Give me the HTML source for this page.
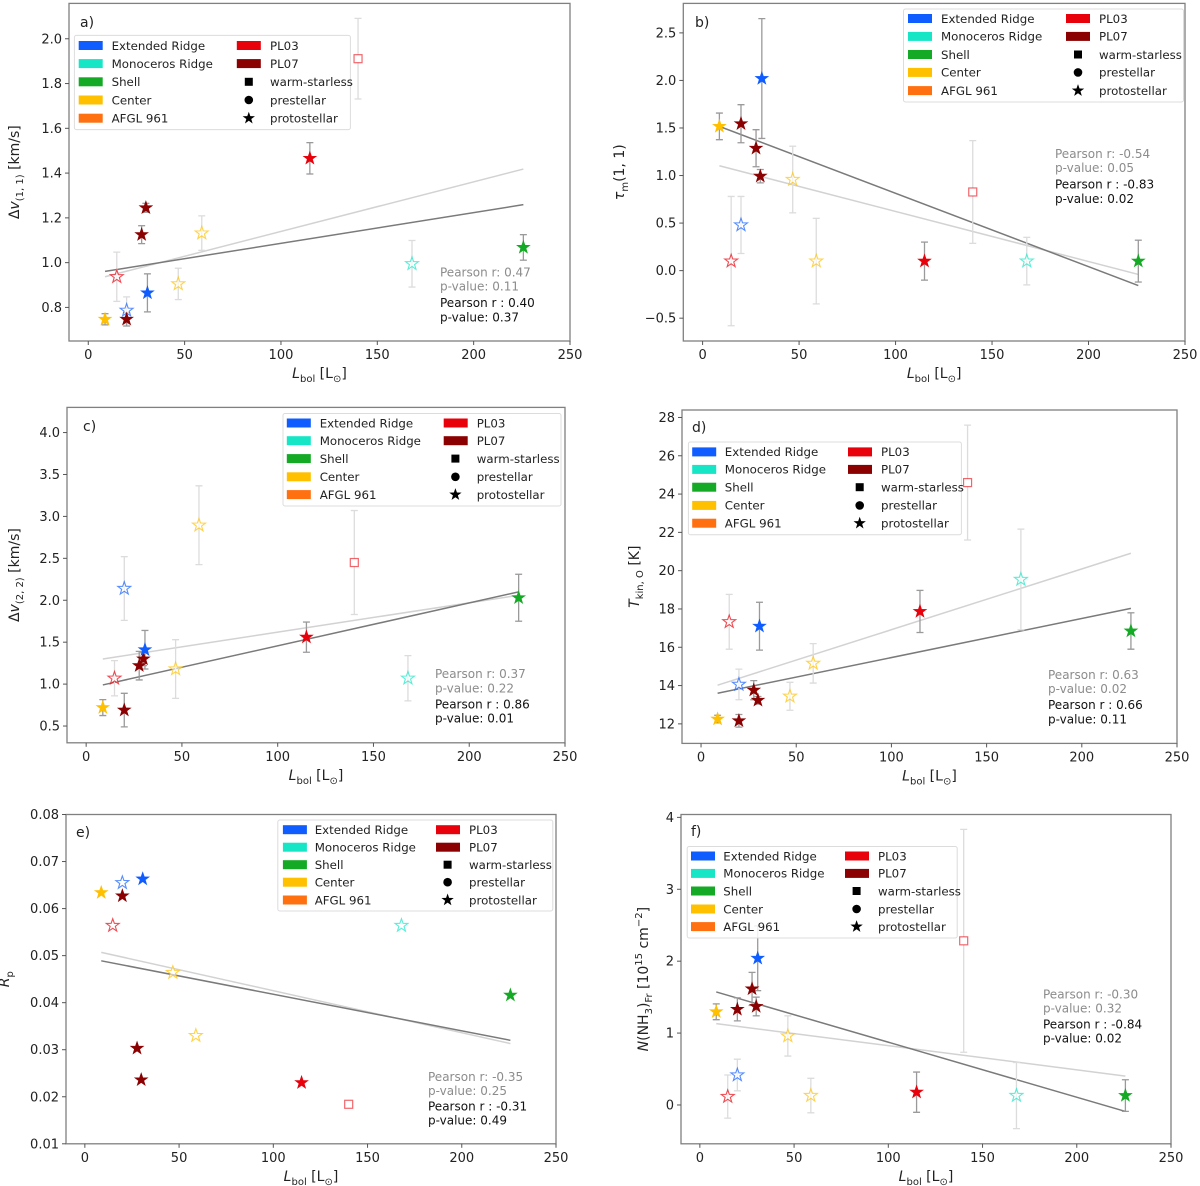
<!DOCTYPE html>
<html><head><meta charset="utf-8"><title>Lbol correlations</title>
<style>
html,body{margin:0;padding:0;background:#fff;}
svg{display:block;font-family:"DejaVu Sans","Liberation Sans",sans-serif;}
</style></head>
<body>
<svg id="fig" width="1200" height="1186" viewBox="0 0 1200 1186" xmlns="http://www.w3.org/2000/svg"></svg>
<script>
// ---- shared data ----
const lbol = [8.7, 14.8, 19.9, 19.9, 27.7, 29.9, 30.7, 46.7, 58.9, 115, 140, 168, 225.8];
const region = ['Center','PL03','Extended Ridge','PL07','PL07','PL07','Extended Ridge','Center','Center','PL03','PL03','Monoceros Ridge','Shell'];
const isFilled = [1,0,0,1,1,1,1,0,0,1,0,0,1];
const markerType = ['star','star','star','star','star','star','star','star','star','star','square','star','star'];
const xTicks = [0, 50, 100, 150, 200, 250];
const fitX = [8.7, 225.8];

// ---- panel a ----
const aVal = [0.747,0.937,0.787,0.747,1.125,1.245,0.865,0.905,1.132,1.466,1.911,0.995,1.068];
const aErr = [0.025,0.11,0.06,0.03,0.04,0.02,0.085,0.07,0.077,0.07,0.18,0.104,0.057];
const aTicks = [0.8,1.0,1.2,1.4,1.6,1.8,2.0];
const aFitAll = [0.937,1.418];
const aFitProto = [0.961,1.259];
const aStats = ['Pearson r: 0.47','p-value: 0.11','Pearson r : 0.40','p-value: 0.37'];
// ---- panel b ----
const bVal = [1.517,0.10,0.48,1.545,1.287,0.993,2.02,0.958,0.10,0.10,0.827,0.10,0.10];
const bErr = [0.14,0.68,0.3,0.2,0.195,0.07,0.63,0.35,0.45,0.2,0.54,0.25,0.22];
const bTicks = [-0.5,0.0,0.5,1.0,1.5,2.0,2.5];
const bFitAll = [1.103,-0.04];
const bFitProto = [1.517,-0.157];
const bStats = ['Pearson r: -0.54','p-value: 0.05','Pearson r : -0.83','p-value: 0.02'];
// ---- panel c ----
const cVal = [0.72,1.07,2.14,0.69,1.22,1.30,1.41,1.18,2.895,1.56,2.45,1.07,2.03];
const cErr = [0.095,0.21,0.38,0.2,0.17,0.08,0.23,0.35,0.47,0.18,0.62,0.27,0.28];
const cTicks = [0.5,1.0,1.5,2.0,2.5,3.0,3.5,4.0];
const cFitAll = [1.30,2.06];
const cFitProto = [0.99,2.10];
const cStats = ['Pearson r: 0.37','p-value: 0.22','Pearson r : 0.86','p-value: 0.01'];
// ---- panel d ----
const dVal = [12.25,17.33,14.06,12.16,13.76,13.23,17.1,13.44,15.16,17.87,24.6,19.54,16.85];
const dErr = [0.2,1.43,0.8,0.33,0.5,0.2,1.25,0.73,1.03,1.1,3.0,2.63,0.95];
const dTicks = [12,14,16,18,20,22,24,26,28];
const dFitAll = [14.02,20.91];
const dFitProto = [13.6,18.03];
const dStats = ['Pearson r: 0.63','p-value: 0.02','Pearson r : 0.66','p-value: 0.11'];
// ---- panel e ----
const eVal = [0.0634,0.0564,0.0655,0.0627,0.0303,0.0236,0.0663,0.0464,0.0330,0.0230,0.0184,0.0564,0.0416];
const eErr = [0,0,0,0,0,0,0,0,0,0,0,0,0];
const eTicks = [0.01,0.02,0.03,0.04,0.05,0.06,0.07,0.08];
const eFitAll = [0.0507,0.0313];
const eFitProto = [0.0489,0.0320];
const eStats = ['Pearson r: -0.35','p-value: 0.25','Pearson r : -0.31','p-value: 0.49'];
// ---- panel f ----
const fVal = [1.296,0.117,0.417,1.33,1.614,1.37,2.04,0.96,0.131,0.178,2.283,0.131,0.131];
const fErr = [0.11,0.3,0.22,0.16,0.23,0.13,0.45,0.28,0.24,0.28,1.55,0.46,0.22];
const fTicks = [0,1,2,3,4];
const fFitAll = [1.132,0.402];
const fFitProto = [1.572,-0.09];
const fStats = ['Pearson r: -0.30','p-value: 0.32','Pearson r : -0.84','p-value: 0.02'];

const regionColor = {'Extended Ridge':'#0f5cff','Monoceros Ridge':'#16e6c6','Shell':'#14aa25','Center':'#ffc000','AFGL 961':'#ff7010','PL03':'#e8000b','PL07':'#8b0000'};
const legendRegions = ['Extended Ridge','Monoceros Ridge','Shell','Center','AFGL 961'];
const legendRegions2 = ['PL03','PL07'];
const legendTypes = ['warm-starless','prestellar','protostellar'];

const NS = 'http://www.w3.org/2000/svg';
const fig = document.getElementById('fig');
function mk(tag, attrs, parent){
  const e = document.createElementNS(NS, tag);
  for (const k in attrs) e.setAttribute(k, attrs[k]);
  (parent||fig).appendChild(e);
  return e;
}
function starPath(cx, cy, R){
  const r = R*0.40; let d='';
  for(let i=0;i<10;i++){
    const rad = i%2===0?R:r; const a = -Math.PI/2 + i*Math.PI/5;
    d += (i===0?'M':'L') + (cx+rad*Math.cos(a)).toFixed(2)+','+(cy+rad*Math.sin(a)).toFixed(2);
  }
  return d+'Z';
}

const panels = [
 {id:'a', label:'a)', vals:aVal, errs:aErr, ticks:aTicks, fitAll:aFitAll, fitProto:aFitProto, stats:aStats, dec:1,
  box:[69,3.4,570,341], ylim:[0.65,2.158], ylab:'a', ylx:19,
  leg:{x:74.4,y:35.4,w:276,h:94.2,rows:[45.5,63.6,81.8,100,118.2],p1:78.7,l1:111.6,p2:236.8,l2:270,m:248.8},
  tag:{x:80,y:27}, st:{x:440,y:[272,286,302.4,316.8]}},
 {id:'b', label:'b)', vals:bVal, errs:bErr, ticks:bTicks, fitAll:bFitAll, fitProto:bFitProto, stats:bStats, dec:1,
  box:[683.3,3.4,1185,341], ylim:[-0.74,2.81], ylab:'b', ylx:624,
  leg:{x:903.5,y:9,w:280,h:93,rows:[18.5,36.4,54.5,72.4,90.6],p1:908,l1:941,p2:1066,l2:1099,m:1078},
  tag:{x:695,y:27}, st:{x:1055,y:[153.5,167.7,184.2,198.7]}},
 {id:'c', label:'c)', vals:cVal, errs:cErr, ticks:cTicks, fitAll:cFitAll, fitProto:cFitProto, stats:cStats, dec:1,
  box:[67,407.4,565,742.8], ylim:[0.30,4.30], ylab:'c', ylx:19,
  leg:{x:283,y:413.5,w:278,h:92.5,rows:[423,440.7,458.6,476.8,494.6],p1:286.8,l1:319.7,p2:443.7,l2:476.7,m:455.4},
  tag:{x:83,y:431}, st:{x:435,y:[673.7,688.2,704,718.2]}},
 {id:'d', label:'d)', vals:dVal, errs:dErr, ticks:dTicks, fitAll:dFitAll, fitProto:dFitProto, stats:dStats, dec:0,
  box:[682,410,1177,743.4], ylim:[10.98,28.39], ylab:'d', ylx:639,
  leg:{x:688.4,y:442,w:273,h:92.7,rows:[451.9,469.4,487.2,505.4,523.2],p1:692.2,l1:724.8,p2:848,l2:881,m:859.7},
  tag:{x:692,y:432}, st:{x:1048,y:[674.4,688.6,704.7,718.9]}},
 {id:'e', label:'e)', vals:eVal, errs:eErr, ticks:eTicks, fitAll:eFitAll, fitProto:eFitProto, stats:eStats, dec:2,
  box:[66,814.5,556,1143.8], ylim:[0.01,0.08], ylab:'e', ylx:9,
  leg:{x:277.8,y:820,w:275,h:91,rows:[829.7,847.2,864.7,882.2,900],p1:282.9,l1:314.7,p2:436,l2:469,m:447.6},
  tag:{x:76,y:837}, st:{x:428,y:[1076.5,1090.6,1105.8,1120.2]}},
 {id:'f', label:'f)', vals:fVal, errs:fErr, ticks:fTicks, fitAll:fFitAll, fitProto:fFitProto, stats:fStats, dec:-1,
  box:[681,814.5,1171,1143.8], ylim:[-0.54,4.04], ylab:'f', ylx:648,
  leg:{x:687.2,y:846.5,w:270,h:91.5,rows:[856,873.4,891,909,926.6],p1:691,l1:723.3,p2:845,l2:878,m:856.6},
  tag:{x:691,y:836}, st:{x:1043,y:[994,1008,1024,1037.8]}}
];

function yLabel(g, p, cx, cy){
  const t = mk('text',{x:cx,y:cy,'text-anchor':'middle','font-size':14,fill:'#222',transform:`rotate(-90 ${cx} ${cy})`},g);
  
  
  const parts = {
    a:[['Δ',''],['v','i'],['(1, 1)','s'],[' [km/s]','']],
    b:[['τ','i'],['m','s'],['(1, 1)','']],
    c:[['Δ',''],['v','i'],['(2, 2)','s'],[' [km/s]','']],
    d:[['T','i'],['kin, O','s'],[' [K]','']],
    e:[['R','i'],['p','s']],
    f:[['N','i'],['(NH',''],['3','s'],[')',''],['Fr','s'],[' [10',''],['15','u'],[' cm',''],['−2','u'],[']','']]
  }[p.ylab];
  let shift = 0;
  parts.forEach(([txt,st])=>{
    const ts = mk('tspan',{},t);
    let target = st==='s'?4:(st==='u'?-6:0);
    if(target!==shift){ ts.setAttribute('dy', target-shift); shift=target; }
    if(st==='i') ts.setAttribute('font-style','italic');
    if(st==='s'||st==='u') ts.setAttribute('font-size',10);
    ts.textContent = txt;
  });
}

panels.forEach(p=>{
  const g = mk('g',{});
  
  
  const [x0,y0,x1,y1] = p.box;
  const xs = v => x0 + (v+10)/260*(x1-x0);
  const ys = v => y1 - (v-p.ylim[0])/(p.ylim[1]-p.ylim[0])*(y1-y0);
  const clipId = 'clip-'+p.id;
  const cp = mk('clipPath',{id:clipId},g); mk('rect',{x:x0,y:y0,width:x1-x0,height:y1-y0},cp);
  const plot = mk('g',{'clip-path':`url(#${clipId})`},g);

  const frame = mk('rect',{x:x0,y:y0,width:x1-x0,height:y1-y0,fill:'none',stroke:'#808080','stroke-width':1.3},g);
  
  
  xTicks.forEach(v=>{
    const x = xs(v);
    mk('line',{x1:x,x2:x,y1:y1,y2:y1+4,stroke:'#555','stroke-width':1},g);
    const t = mk('text',{x:x,y:y1+18,'text-anchor':'middle','font-size':13,fill:'#222'},g);
    
    
    t.textContent = v;
  });
  p.ticks.forEach(v=>{
    const y = ys(v);
    mk('line',{x1:x0-4,x2:x0,y1:y,y2:y,stroke:'#555','stroke-width':1},g);
    const t = mk('text',{x:x0-7,y:y+4.5,'text-anchor':'end','font-size':13,fill:'#222'},g);
    
    
    let s = p.dec>=0 ? v.toFixed(p.dec) : String(v);
    t.textContent = s.replace('-','−');
  });
  const xl = mk('text',{x:(x0+x1)/2,y:y1+37,'text-anchor':'middle','font-size':14,fill:'#222'},g);
  
  
  const t1 = mk('tspan',{'font-style':'italic'},xl); t1.textContent='L';
  const t2 = mk('tspan',{'font-size':10,dy:4},xl); t2.textContent='bol';
  const t3 = mk('tspan',{dy:-4},xl); t3.textContent=' [L';
  const t4 = mk('tspan',{'font-size':10,dy:4},xl); t4.textContent='⊙';
  const t5 = mk('tspan',{dy:-4},xl); t5.textContent=']';
  yLabel(g, p, p.ylx, (y0+y1)/2);

  const tg = mk('text',{x:p.tag.x,y:p.tag.y,'font-size':14,fill:'#222'},g);
  
  
  tg.textContent = p.label;

  const la = mk('line',{x1:xs(fitX[0]),y1:ys(p.fitAll[0]),x2:xs(fitX[1]),y2:ys(p.fitAll[1]),stroke:'#d2d2d2','stroke-width':1.5},plot);
  
  
  const lp = mk('line',{x1:xs(fitX[0]),y1:ys(p.fitProto[0]),x2:xs(fitX[1]),y2:ys(p.fitProto[1]),stroke:'#7a7a7a','stroke-width':1.5},plot);
  
  

  p.vals.forEach((v,i)=>{
    const e = p.errs[i]; if(!e) return;
    const x = xs(lbol[i]); const ya = ys(v-e), yb = ys(v+e);
    const col = isFilled[i] ? '#9a9a9a' : '#dcdcdc';
    const eb = mk('g',{stroke:col,'stroke-width':1.3},plot);
    
    
    mk('line',{x1:x,x2:x,y1:ya,y2:yb},eb);
    mk('line',{x1:x-3.5,x2:x+3.5,y1:ya,y2:ya},eb);
    mk('line',{x1:x-3.5,x2:x+3.5,y1:yb,y2:yb},eb);
  });
  p.vals.forEach((v,i)=>{
    const x = xs(lbol[i]), y = ys(v);
    const col = regionColor[region[i]];
    let m;
    if(markerType[i]==='square'){
      m = mk('rect',{x:x-4,y:y-4,width:8,height:8,fill:'#fff',stroke:col,'stroke-opacity':0.6,'stroke-width':1.2},plot);
    } else if(isFilled[i]){
      m = mk('path',{d:starPath(x,y,6.8),fill:col,stroke:col,'stroke-width':0.6},plot);
    } else {
      m = mk('path',{d:starPath(x,y,6.8),fill:'#fff','fill-opacity':0.6,stroke:col,'stroke-opacity':0.7,'stroke-width':1.1},plot);
    }
    
    
  });

  p.stats.forEach((s,k)=>{
    const t = mk('text',{x:p.st.x,y:p.st.y[k]+4.5,'font-size':12,fill:k<2?'#8c8c8c':'#111'},g);
    
    
    t.textContent = s;
  });

  const L = p.leg;
  const lg = mk('g',{},g);
  
  
  mk('rect',{x:L.x,y:L.y,width:L.w,height:L.h,rx:2,fill:'#fff','fill-opacity':0.85,stroke:'#dcdcdc','stroke-width':1},lg);
  legendRegions.forEach((r,k)=>{
    const y = L.rows[k];
    const pr = mk('rect',{x:L.p1,y:y-4.5,width:24,height:9,fill:regionColor[r]},lg);
    
    
    const t = mk('text',{x:L.l1,y:y+4.3,'font-size':11.8,fill:'#222'},lg);
    
    
    t.textContent = r;
  });
  legendRegions2.forEach((r,k)=>{
    const y = L.rows[k];
    const pr = mk('rect',{x:L.p2,y:y-4.5,width:24,height:9,fill:regionColor[r]},lg);
    
    
    const t = mk('text',{x:L.l2,y:y+4.3,'font-size':11.8,fill:'#222'},lg);
    
    
    t.textContent = r;
  });
  legendTypes.forEach((r,k)=>{
    const y = L.rows[k+2];
    let m;
    if(k===0) m = mk('rect',{x:L.m-4,y:y-4,width:8,height:8,fill:'#000'},lg);
    else if(k===1) m = mk('circle',{cx:L.m,cy:y,r:4.3,fill:'#000'},lg);
    else m = mk('path',{d:starPath(L.m,y,6.5),fill:'#000'},lg);
    
    
    const t = mk('text',{x:L.l2,y:y+4.3,'font-size':11.8,fill:'#222'},lg);
    
    
    t.textContent = r;
  });
});
</script>
</body></html>
